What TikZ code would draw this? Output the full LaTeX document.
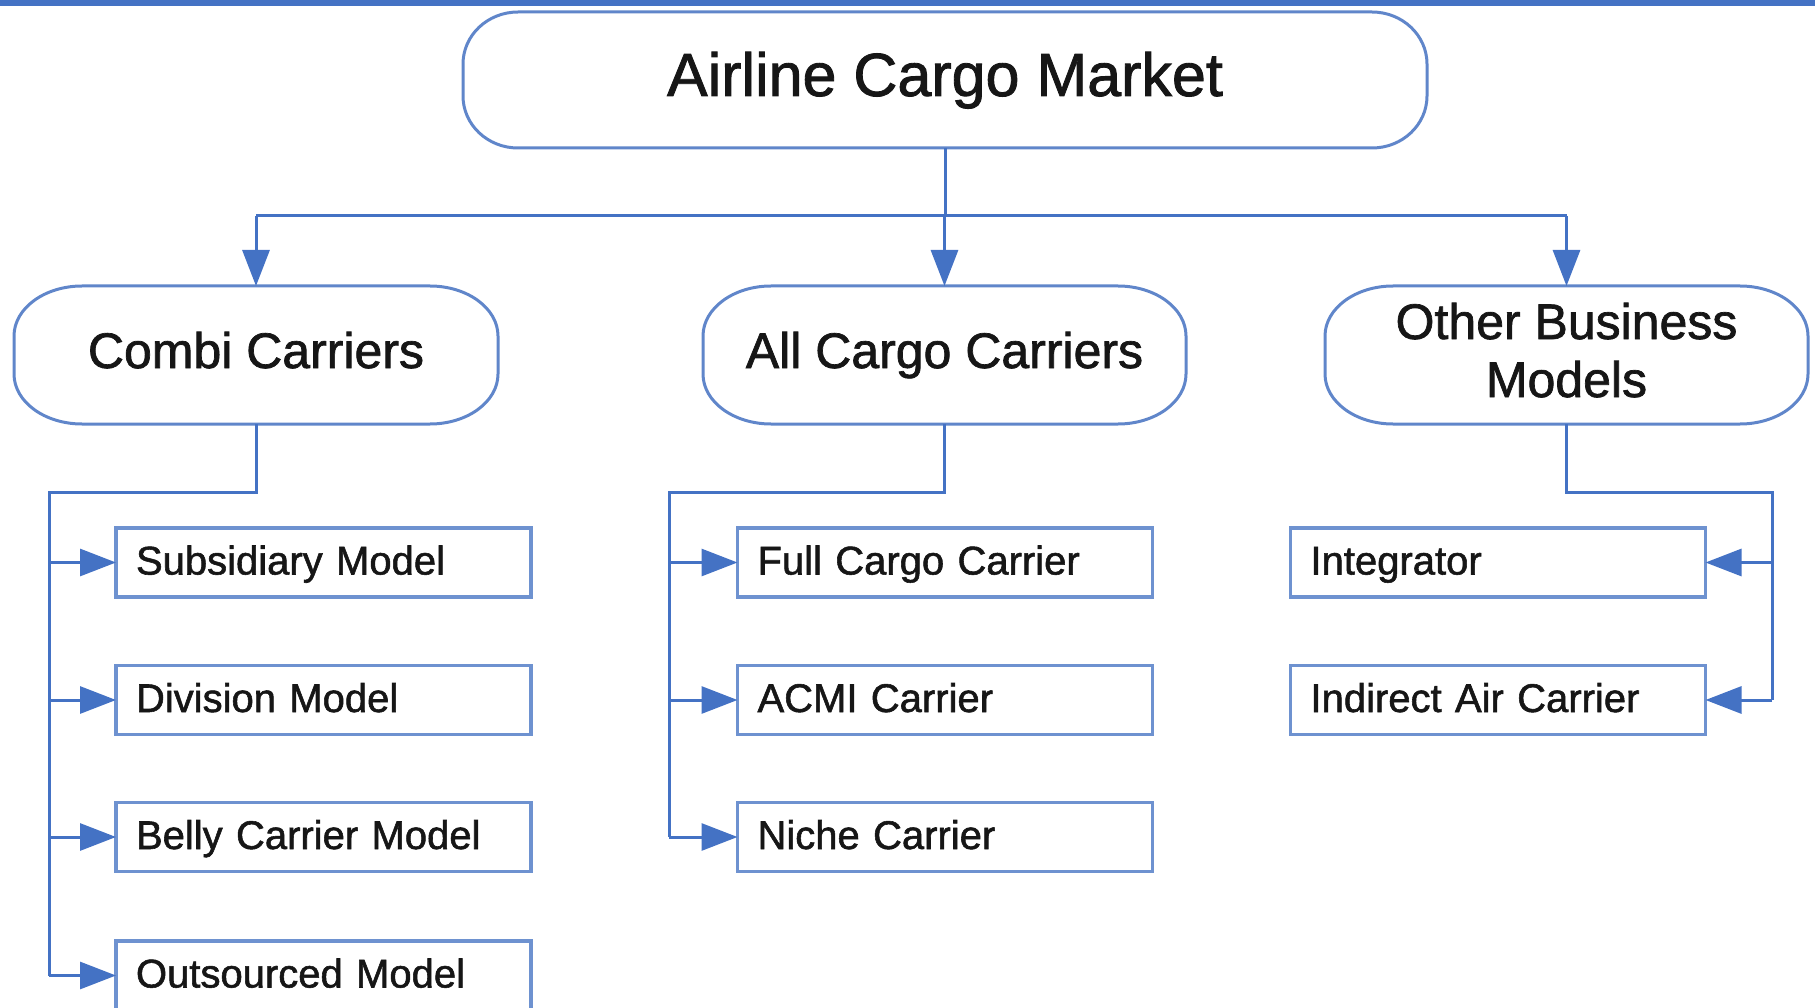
\documentclass[tikz,border=0pt]{standalone}
\usepackage{fontspec}
\setmainfont{Liberation Sans}[FakeBold=1.4]
\usetikzlibrary{arrows.meta}
\definecolor{linkblue}{RGB}{68,114,196}
\definecolor{edgeblue}{RGB}{110,146,208}
\definecolor{capblue}{RGB}{96,134,202}
\definecolor{ink}{RGB}{22,22,22}

% outline of a capsule node with elliptical ends: #1 node, #2 x radius, #3 y radius
\newcommand\capsuleoutline[3]{%
  \draw[capedge]
    ([xshift=-#2]#1.north east) arc[start angle=90,end angle=0,x radius=#2,y radius=#3]
    -- ([yshift=#3]#1.south east) arc[start angle=0,end angle=-90,x radius=#2,y radius=#3]
    -- ([xshift=#2]#1.south west) arc[start angle=-90,end angle=-180,x radius=#2,y radius=#3]
    -- ([yshift=-#3]#1.north west) arc[start angle=180,end angle=90,x radius=#2,y radius=#3]
    -- cycle;}

\begin{document}
\begin{tikzpicture}[x=1pt,y=-1pt,
  capnode/.style={draw=none,outer sep=0pt,inner sep=0pt,align=center,text=ink},
  topfont/.style={font=\fontsize{61pt}{70pt}\selectfont,text height=46pt,text depth=14pt},
  midfont/.style={font=\fontsize{50pt}{58pt}\selectfont,text height=38pt,text depth=12pt},
  capedge/.style={draw=capblue,line width=3pt},
  itembox/.style={draw=edgeblue,line width=3.5pt,outer sep=0pt,inner xsep=20pt,inner ysep=0pt,
    text width=375pt,minimum height=69pt,align=left,text=ink,
    font=\fontsize{40pt}{48pt}\selectfont,text height=32pt,text depth=8pt},
  conn/.style={draw=linkblue,line width=3pt},
  arr/.style={conn,-{Triangle[length=36pt,width=27pt]},fill=linkblue}]

\useasboundingbox (0,0) rectangle (1815,1008);
\clip (0,0) rectangle (1815,1008);

% band along the top edge
\fill[linkblue] (0,0) rectangle (1815,6);

% main categories
\node[capnode,topfont,minimum width=964pt,minimum height=136pt] (top) at (945,80) {Airline Cargo Market};
\node[capnode,midfont,minimum width=484pt,minimum height=138pt] (combi) at (256,355) {Combi Carriers};
\node[capnode,midfont,minimum width=483pt,minimum height=138pt] (allcargo) at (944.5,355) {All Cargo Carriers};
\node[capnode,midfont,minimum width=483pt,minimum height=138pt,text height=96pt,text depth=12pt] (other) at (1566.5,355) {Other Business\\Models};

\capsuleoutline{top}{55pt}{52pt}
\capsuleoutline{combi}{68pt}{50pt}
\capsuleoutline{allcargo}{68pt}{50pt}
\capsuleoutline{other}{68pt}{50pt}

% business models
\node[itembox] (s1) at (323.5,562.5) {Subsidiary Model};
\node[itembox] (s2) at (323.5,700) {Division Model};
\node[itembox] (s3) at (323.5,837) {Belly Carrier Model};
\node[itembox] (s4) at (323.5,975.5) {Outsourced Model};

\node[itembox] (f1) at (945,562.5) {Full Cargo Carrier};
\node[itembox] (f2) at (945,700) {ACMI Carrier};
\node[itembox] (f3) at (945,837) {Niche Carrier};

\node[itembox] (o1) at (1498,562.5) {Integrator};
\node[itembox] (o2) at (1498,700) {Indirect Air Carrier};

% top-level distribution bus
\coordinate (bus) at (945,216);
\draw[conn] (top.south) -- (bus);
\draw[conn] (combi.north |- bus) -- (other.north |- bus);
\draw[arr] (combi.north |- bus) -- (combi.north);
\draw[arr] (allcargo.north |- bus) -- (allcargo.north);
\draw[arr] (other.north |- bus) -- (other.north);

% combi carriers branch
\coordinate (cj) at (49,492);
\draw[conn] (combi.south) -- (combi.south |- cj) -- (cj) -- (cj |- s4.west);
\foreach \b in {s1,s2,s3,s4}
  \draw[arr] (cj |- \b.west) -- (\b.west);

% all cargo carriers branch
\coordinate (aj) at (669,492);
\draw[conn] (allcargo.south) -- (allcargo.south |- aj) -- (aj) -- (aj |- f3.west);
\foreach \b in {f1,f2,f3}
  \draw[arr] (aj |- \b.west) -- (\b.west);

% other business models branch
\coordinate (oj) at (1772,492);
\draw[conn] (other.south) -- (other.south |- oj) -- (oj) -- (oj |- o2.east);
\foreach \b in {o1,o2}
  \draw[arr] (oj |- \b.east) -- (\b.east);

\end{tikzpicture}
\end{document}
